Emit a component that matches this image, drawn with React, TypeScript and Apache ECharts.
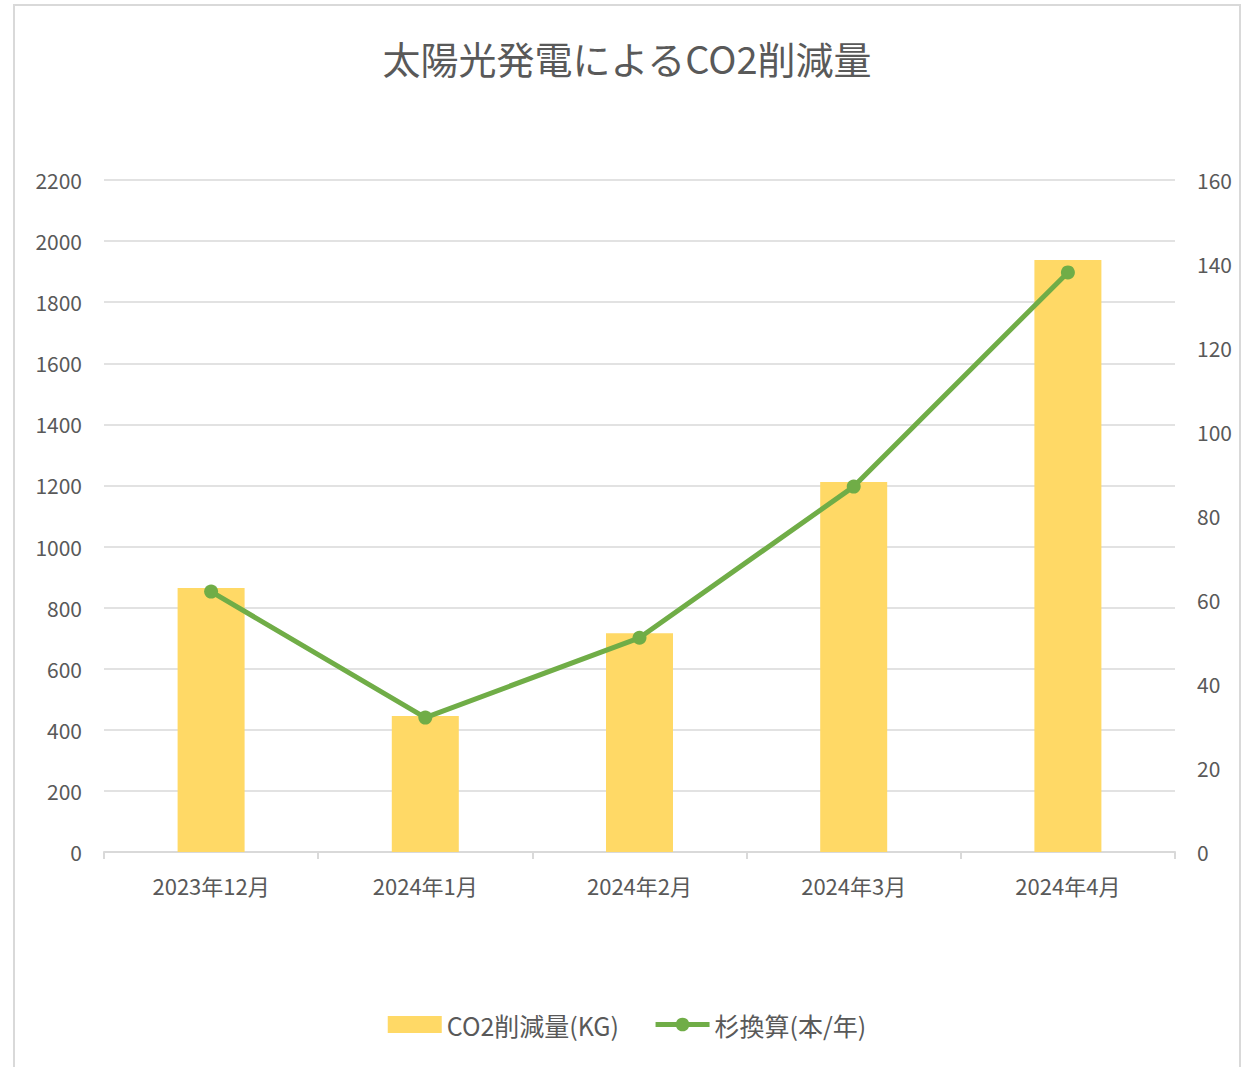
import React, { useEffect, useRef } from "react";
import * as echarts from "echarts";

const categories = ["2023年12月", "2024年1月", "2024年2月", "2024年3月", "2024年4月"];
const co2Values = [864, 445, 716, 1211, 1938];
const cedarValues = [62, 32, 51, 87, 138];
const leftTicks = { min: 0, max: 2200, interval: 200 };
const rightTicks = { min: 0, max: 160, interval: 20 };
const barName = "CO2削減量(KG)";
const lineName = "杉換算(本/年)";
const titleText = "太陽光発電によるCO2削減量";

const FONT = '"Noto Sans CJK JP", "Noto Sans", sans-serif';
const TEXT = "#595959";
const GRID = "#d9d9d9";

export default function App() {
  const ref = useRef<HTMLDivElement>(null);
  useEffect(() => {
    if (!ref.current) return;
    const chart = echarts.init(ref.current, null, { renderer: "svg" });
    chart.setOption({
      animation: false,
      backgroundColor: "#ffffff",
      textStyle: { fontFamily: FONT },
      title: {
        text: titleText,
        left: "center",
        top: 33,
        textStyle: { fontFamily: FONT, fontSize: 38, fontWeight: "normal", color: TEXT },
      },
      graphic: [
        {
          type: "rect",
          shape: { x: 14, y: 5, width: 1226, height: 1080 },
          style: { fill: "none", stroke: GRID, lineWidth: 2 },
          silent: true,
          z: -1,
        },
      ],
      grid: { left: 104, right: 79, top: 180, bottom: 215, containLabel: false },
      legend: {
        bottom: 25,
        left: "center",
        itemGap: 34,
        itemWidth: 54,
        itemHeight: 17,
        textStyle: { fontFamily: FONT, fontSize: 25, color: TEXT },
        data: [
          { name: barName, icon: "rect" },
          { name: lineName, lineStyle: { width: 5 } },
        ],
      },
      xAxis: {
        type: "category",
        data: categories,
        axisLine: { lineStyle: { color: GRID, width: 2 } },
        axisTick: { show: true, length: 7, lineStyle: { color: GRID, width: 2 } },
        axisLabel: { color: TEXT, fontSize: 22, margin: 22, fontFamily: FONT },
      },
      yAxis: [
        {
          type: "value",
          min: leftTicks.min,
          max: leftTicks.max,
          interval: leftTicks.interval,
          axisLine: { show: false },
          axisTick: { show: false },
          axisLabel: {
            color: TEXT,
            fontSize: 21,
            margin: 22,
            fontFamily: FONT,
            verticalAlign: "middle",
            padding: [0, 0, 3, 0],
            formatter: (v: number) => String(v),
          },
          splitLine: { lineStyle: { color: GRID, width: 1.5 } },
        },
        {
          type: "value",
          min: rightTicks.min,
          max: rightTicks.max,
          interval: rightTicks.interval,
          position: "right",
          axisLine: { show: false },
          axisTick: { show: false },
          axisLabel: {
            color: TEXT,
            fontSize: 21,
            margin: 22,
            fontFamily: FONT,
            verticalAlign: "middle",
            padding: [0, 0, 3, 0],
            formatter: (v: number) => String(v),
          },
          splitLine: { show: false },
        },
      ],
      series: [
        {
          name: barName,
          type: "bar",
          data: co2Values,
          barWidth: 67,
          itemStyle: { color: "#FFD966" },
          yAxisIndex: 0,
        },
        {
          name: lineName,
          type: "line",
          data: cedarValues,
          yAxisIndex: 1,
          symbol: "circle",
          symbolSize: 14,
          lineStyle: { color: "#70AD47", width: 5 },
          itemStyle: { color: "#70AD47" },
          z: 3,
        },
      ],
    });
    return () => chart.dispose();
  }, []);
  return (
    <div
      ref={ref}
      style={{ position: "absolute", left: 0, top: 0, width: 1254, height: 1067 }}
    />
  );
}
